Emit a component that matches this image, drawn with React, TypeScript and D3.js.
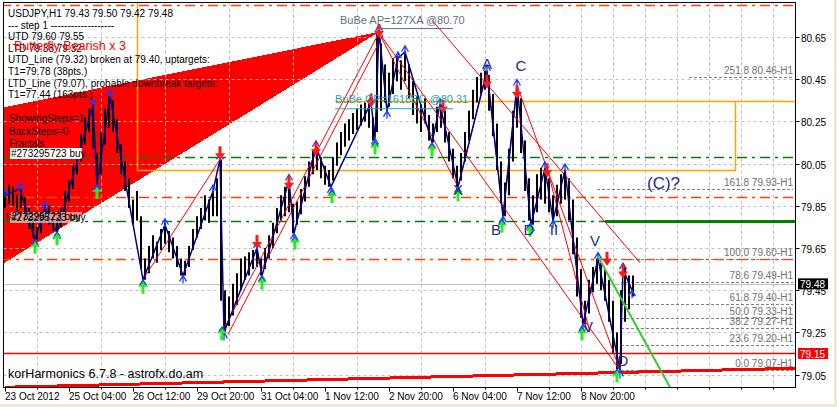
import React, { useEffect, useRef } from 'react';
import * as d3 from 'd3';

const W = 837, H = 407;
const FONT = '"Liberation Sans", Arial, sans-serif';

// 2-hour aggregated bars, bar i at hour 2*i
const highs = [79.93,79.95,79.94,79.90,79.93,79.89,79.84,79.78,79.75,79.81,79.86,79.85,79.80,79.78,79.84,79.92,79.97,80.04,80.12,80.19,
80.27,80.31,80.33,80.10,80.20,80.31,80.37,80.35,80.26,80.14,80.06,79.98,79.88,79.92,79.80,79.60,79.66,79.71,79.68,79.74,
79.77,79.73,79.70,79.66,79.60,79.59,79.66,79.74,79.80,79.84,79.90,79.88,79.92,79.98,80.07,79.45,79.42,79.48,79.53,79.60,
79.61,79.63,79.64,79.66,79.60,79.65,79.71,79.77,79.84,79.90,79.94,79.97,79.86,79.87,79.93,79.99,80.06,80.11,80.13,80.08,
80.04,80.02,80.08,80.15,80.20,80.24,80.26,80.29,80.31,80.33,80.34,80.34,80.27,80.68,80.62,80.52,80.48,80.55,80.56,80.54,
80.58,80.52,80.44,80.37,80.33,80.36,80.28,80.24,80.32,80.33,80.30,80.20,80.12,80.04,80.10,80.20,80.30,80.40,80.46,80.48,
80.49,80.47,80.38,80.24,80.06,79.96,80.12,80.30,80.42,80.36,80.16,79.98,79.90,80.00,80.03,80.02,79.98,79.90,79.95,80.00,
80.02,79.98,79.88,79.70,79.55,79.40,79.50,79.56,79.60,79.58,79.55,79.50,79.40,79.25,79.45,79.56,79.52,79.52];
const lows = [79.84,79.86,79.85,79.80,79.84,79.79,79.74,79.70,79.69,79.72,79.77,79.76,79.73,79.72,79.75,79.82,79.87,79.93,80.00,80.06,
80.14,80.20,80.12,79.95,80.00,80.14,80.22,80.20,80.10,80.00,79.92,79.84,79.76,79.78,79.55,79.50,79.53,79.60,79.58,79.64,
79.67,79.63,79.60,79.56,79.52,79.52,79.56,79.64,79.70,79.74,79.78,79.77,79.80,79.80,79.40,79.25,79.28,79.33,79.38,79.45,
79.50,79.52,79.55,79.56,79.52,79.55,79.60,79.65,79.72,79.78,79.80,79.82,79.72,79.76,79.81,79.87,79.94,80.00,80.02,79.98,
79.95,79.94,79.97,80.04,80.09,80.13,80.16,80.19,80.21,80.23,80.25,80.22,80.16,80.20,80.30,80.34,80.32,80.38,80.44,80.40,
80.44,80.36,80.28,80.24,80.20,80.24,80.16,80.15,80.20,80.22,80.15,80.06,79.98,79.94,79.97,80.06,80.16,80.26,80.34,80.38,
80.40,80.30,80.18,80.02,79.86,79.80,79.90,80.06,80.22,80.10,79.92,79.78,79.76,79.82,79.88,79.86,79.82,79.78,79.80,79.86,
79.88,79.78,79.62,79.42,79.32,79.29,79.34,79.44,79.48,79.45,79.40,79.30,79.15,79.07,79.10,79.30,79.36,79.42];

const timeLabels = ['23 Oct 2012','25 Oct 04:00','26 Oct 12:00','29 Oct 20:00','31 Oct 04:00','1 Nov 12:00','2 Nov 20:00','6 Nov 04:00','7 Nov 12:00','8 Nov 20:00'];
const timeLabelHours = [0,32,64,96,128,160,192,224,256,288];
const gridHours = [16,48,80,112,144,176,208,240,272,288,304,320,336,352,368,384];
const priceTicks = [80.65,80.45,80.25,80.05,79.85,79.65,79.45,79.25,79.05];

// zigzag [hour, price]
const zigzag = [[0,79.90],[7.5,79.93],[15,79.69],[20,79.84],[26,79.72],[44,80.33],[46,79.95],[52.5,80.37],[69,79.50],[80,79.76],[89,79.52],[104,79.92],[107.5,80.07],[109.5,79.25],[126,79.65],[128.5,79.52],[142,79.97],[144.5,79.72],[155.5,80.13],[163,79.94],[183,80.34],[185,80.17],[187,80.68],[191,80.30],[196.5,80.55],[200,80.58],[213.5,80.15],[217.5,80.33],[226.5,79.94],[241,80.49],[249,79.80],[256,80.42],[263,79.76],[270,80.03],[274,79.78],[280,80.02],[289,79.29],[296.5,79.60],[307.5,79.07],[309,79.55],[313.5,79.45]];

const redArrows = [[107.5,80.08],[126,79.66],[142,79.94],[155.5,80.10],[183,80.33],[187,80.66],[219,80.30],[241,80.42],[256,80.37],[271,80.00],[301,79.58],[309,79.52]];
const greenArrows = [[15,79.68],[26,79.72],[46,79.94],[69,79.49],[108.5,79.27],[128.5,79.51],[145,79.70],[163.5,79.92],[185,80.15],[213.5,80.14],[226.5,79.93],[248.5,79.78],[262.5,79.76],[288.5,79.27],[306,79.07]];

const redSegments = [
  [[187,80.67],[307.5,79.07]],
  [[213.5,80.73],[317.5,79.58]],
  [[187,80.67],[226.5,79.94]],
  [[226.5,79.94],[241,80.49]],
  [[241,80.49],[249,79.80]],
  [[249,79.80],[256,80.42]],
  [[256,80.42],[307.5,79.07]],
  [[69,79.50],[107.5,80.07]],
  [[108.5,79.25],[187,80.67]],
  [[111.5,79.24],[189,80.66]],
  [[271.5,80.01],[292.5,79.25]],
];
const greenSegment = [[296.5,79.61],[332.5,78.99]];
const butterflyArea = [[-2,80.314],[187,80.674],[-2,79.57]];
const bottomTrend = [[0,78.99],[395,79.08]];

const fibLabels = ['251.8 80.46-H1','161.8 79.93-H1','100.0 79.60-H1','78.6 79.49-H1','61.8 79.40-H1','50.0 79.33-H1','38.2 79.27-H1','23.6 79.20-H1','0.0 79.07-H1'];
const fibPrices = [80.46,79.93,79.60,79.49,79.385,79.32,79.27,79.19,79.07];
const fibStarts = [342,296,308,308,308,308,308,308,308];

const commentLines = ['USDJPY,H1  79.43 79.50 79.42 79.48','---   step 1   -------------------','UTD 79.60  79.55','LTD 79.38  79.32','UTD_Line (79.32) broken at 79.40, uptargets:','T1=79.78 (38pts.)','LTD_Line (79.07), probable downbreak targets:','T1=77.44 (163pts.)'];
const settingLines = ['ShowingSteps=1','BackSteps=0','Fractals'];
const waveLetters = [['A',241,80.50],['C',258,80.49],['X',226.5,79.90],['B',245.5,79.71],['D',262,79.71],['II',274.5,79.71],['V',295,79.66],['V',291.5,79.25],['D',309,79.09]];

export default function App() {
  const ref = useRef<SVGSVGElement>(null);
  useEffect(() => {
    document.body.style.margin = '0';
    const svg = d3.select(ref.current);
    svg.selectAll('*').remove();
    const x = d3.scaleLinear().domain([0, 395]).range([5, 795]);
    const y = d3.scaleLinear().domain([79.05, 80.65]).range([374.6, 37]);
    const L = 3.5, T = 2.5, R = 795.5, B = 387.5;

    svg.append('rect').attr('width', W).attr('height', H).attr('fill', '#fff');
    svg.append('rect').attr('x', 834).attr('width', 3).attr('height', H).attr('fill', '#ECE9D8');
    svg.append('rect').attr('y', 404).attr('width', W).attr('height', 3).attr('fill', '#ECE9D8');

    svg.append('clipPath').attr('id', 'pc').append('rect').attr('x', L).attr('y', T).attr('width', R - L).attr('height', B - T);
    const g = svg.append('g').attr('clip-path', 'url(#pc)');

    // butterfly area
    g.append('path').attr('d', d3.line()(butterflyArea.map(d => [x(d[0]), y(d[1])]) as any) + 'Z')
      .attr('fill', '#FF0000').attr('shape-rendering', 'crispEdges');

    // grid
    priceTicks.forEach(p => g.append('line').attr('x1', L).attr('x2', R).attr('y1', Math.round(y(p)) + 0.5).attr('y2', Math.round(y(p)) + 0.5)
      .attr('stroke', '#C0C0C0').attr('stroke-dasharray', '3,3'));
    gridHours.forEach(h => g.append('line').attr('x1', Math.round(x(h)) + 0.5).attr('x2', Math.round(x(h)) + 0.5).attr('y1', T).attr('y2', B)
      .attr('stroke', '#C0C0C0').attr('stroke-dasharray', '3,3'));

    const hline = (p: number, h0: number, h1: number, color: string, w: number, dash?: string) => {
      const yy = Math.round(y(p)) + (w % 2 ? 0.5 : 0);
      const l = g.append('line').attr('x1', x(h0)).attr('x2', x(h1)).attr('y1', yy).attr('y2', yy)
        .attr('stroke', color).attr('stroke-width', w);
      if (dash) l.attr('stroke-dasharray', dash);
    };
    const dd = '10,5,3,5';
    hline(80.80, -2, 394, '#FF4500', 1.5, dd);
    hline(80.08, -2, 394, '#008000', 1.5, dd);
    hline(79.89, -2, 394, '#FF4500', 1.5, dd);
    hline(79.78, -2, 300, '#008000', 1.5, dd);
    hline(79.78, 300, 396, '#008000', 3);
    hline(79.60, -2, 394, '#FF4500', 1.5, dd);
    hline(79.48, -2, 396, '#C0C0C0', 1);
    hline(79.15, -2, 396, '#FF0000', 1.5);

    // fib lines
    fibPrices.forEach((p, i) => hline(p, fibStarts[i], 394, '#808080', 1, '3,2'));

    // orange box
    const orange = '#FFA500';
    const ob = (pts: number[][]) => g.append('path').attr('d', d3.line()(pts.map(d => [Math.round(x(d[0])) + 0.5, Math.round(y(d[1])) + 0.5]) as any))
      .attr('fill', 'none').attr('stroke', orange).attr('stroke-width', 1.5);
    ob([[66, 80.82], [66, 80.02], [365, 80.02], [365, 80.347]]);
    ob([[165, 80.347], [396, 80.347]]);

    // bottom trend
    g.append('line').attr('x1', x(bottomTrend[0][0])).attr('y1', y(bottomTrend[0][1])).attr('x2', x(bottomTrend[1][0])).attr('y2', y(bottomTrend[1][1]))
      .attr('stroke', '#FF0000').attr('stroke-width', 3).attr('shape-rendering', 'crispEdges');

    // bars
    highs.forEach((hi, i) => {
      const xx = Math.round(x(2 * i));
      g.append('line').attr('x1', xx).attr('x2', xx).attr('y1', y(hi)).attr('y2', y(lows[i]))
        .attr('stroke', '#000').attr('stroke-width', 2);
    });

    // red lines
    redSegments.forEach(s => g.append('line').attr('x1', x(s[0][0])).attr('y1', y(s[0][1])).attr('x2', x(s[1][0])).attr('y2', y(s[1][1]))
      .attr('stroke', '#FF0000').attr('stroke-width', 1));

    // zigzag
    g.append('path').attr('d', d3.line()(zigzag.map(d => [x(d[0]), y(d[1])]) as any))
      .attr('fill', 'none').attr('stroke', '#00008B').attr('stroke-width', 1.5);
    // fractal marks
    zigzag.forEach((d, i) => {
      const cx = x(d[0]), cy = y(d[1]);
      const prev = zigzag[i - 1] ? zigzag[i - 1][1] : d[1] - 1;
      const up = d[1] > prev;
      const yy = up ? cy - 3 : cy + 3;
      g.append('path').attr('d', `M${cx - 3.5},${yy + 3} L${cx},${yy - 3} L${cx + 3.5},${yy + 3} M${cx},${yy - 3} L${cx},${yy + 5}`)
        .attr('fill', 'none').attr('stroke', '#1E3CFF').attr('stroke-width', 1.3);
    });

    // green line
    g.append('line').attr('x1', x(greenSegment[0][0])).attr('y1', y(greenSegment[0][1])).attr('x2', x(greenSegment[1][0])).attr('y2', y(greenSegment[1][1]))
      .attr('stroke', '#33CC33').attr('stroke-width', 2);

    // arrows
    redArrows.forEach(d => {
      const cx = x(d[0]), ty = y(d[1]) + 3;
      g.append('path').attr('d', `M${cx - 1.5},${ty - 14} h3 v7 h3.5 L${cx},${ty} L${cx - 5},${ty - 7} h3.5 Z`).attr('fill', '#FF1A1A');
    });
    greenArrows.forEach(d => {
      const cx = x(d[0]), ty = y(d[1]) - 2;
      g.append('path').attr('d', `M${cx - 1.5},${ty + 14} h3 v-7 h3.5 L${cx},${ty} L${cx - 5},${ty + 7} h3.5 Z`).attr('fill', '#22EE22');
      g.append('path').attr('d', `M${cx - 3},${ty + 5} L${cx},${ty + 1} L${cx + 3},${ty + 5}`).attr('fill', 'none').attr('stroke', '#1E3CFF').attr('stroke-width', 1.2);
    });

    // wave letters
    waveLetters.forEach(d => g.append('text').attr('x', x(d[1] as number)).attr('y', y(d[2] as number)).attr('text-anchor', 'middle')
      .attr('font-family', FONT).attr('font-size', 15).attr('fill', '#1F2A8A').text(d[0] as string));
    g.append('text').attr('x', x(321)).attr('y', y(79.93)).attr('font-family', FONT).attr('font-size', 17).attr('fill', '#1F2A8A').text('(C)?');

    // BuBe labels
    g.append('text').attr('x', x(167.5)).attr('y', y(80.71)).attr('font-family', FONT).attr('font-size', 11).attr('fill', '#607080').text('BuBe AP=127XA   @80.70');
    g.append('line').attr('x1', x(186)).attr('x2', x(224)).attr('y1', y(80.69)).attr('y2', y(80.69)).attr('stroke', '#607080');
    g.append('text').attr('x', x(165)).attr('y', y(80.335)).attr('font-family', FONT).attr('font-size', 11).attr('fill', '#20A8A8').text('BuBe CP=1618BC @80.31');
    g.append('line').attr('x1', x(165)).attr('x2', x(224)).attr('y1', y(80.31)).attr('y2', y(80.31)).attr('stroke', '#20A8A8');

    // fib labels
    fibLabels.forEach((t, i) => g.append('text').attr('x', 793).attr('y', y(fibPrices[i]) - 3).attr('text-anchor', 'end')
      .attr('font-family', FONT).attr('font-size', 10).attr('fill', '#707070').text(t));

    // comments
    commentLines.forEach((t, i) => g.append('text').attr('x', 8).attr('y', 17 + i * 11.6).attr('font-family', FONT).attr('font-size', 10).attr('fill', '#000').text(t));
    g.append('text').attr('x', 14).attr('y', 50).attr('font-family', FONT).attr('font-size', 12.5).attr('fill', '#FF0000').text('Butterfly Bearish x 3');
    settingLines.forEach((t, i) => g.append('text').attr('x', 9).attr('y', 122 + i * 12.5).attr('font-family', FONT).attr('font-size', 10).attr('fill', '#000').text(t));
    g.append('rect').attr('x', 10).attr('y', 148).attr('width', 72).attr('height', 11).attr('fill', '#fff');
    g.append('text').attr('x', 11).attr('y', 157).attr('font-family', FONT).attr('font-size', 10).attr('fill', '#000').text('#273295723 buy');
    g.append('rect').attr('x', 10).attr('y', 212).attr('width', 72).attr('height', 11).attr('fill', '#fff').attr('opacity', 0.6);
    g.append('text').attr('x', 11).attr('y', 221).attr('font-family', FONT).attr('font-size', 10).attr('fill', '#000').text('#273295723 buy');
    g.append('text').attr('x', 6).attr('y', 220).attr('font-family', FONT).attr('font-size', 10).attr('fill', '#000').text('#273295723 buy');
    g.append('text').attr('x', 8).attr('y', 378).attr('font-family', FONT).attr('font-size', 12.5).attr('fill', '#000').text('korHarmonics 6.7.8 - astrofx.do.am');

    // frame
    svg.append('rect').attr('x', L).attr('y', T).attr('width', R - L).attr('height', B - T).attr('fill', 'none').attr('stroke', '#000');

    // y axis
    priceTicks.forEach(p => {
      const yy = Math.round(y(p)) + 0.5;
      svg.append('line').attr('x1', R).attr('x2', R + 4).attr('y1', yy).attr('y2', yy).attr('stroke', '#000');
      svg.append('text').attr('x', 801).attr('y', yy + 4).attr('font-family', FONT).attr('font-size', 10).attr('fill', '#000').text(p.toFixed(2));
    });
    // price tags
    const tag = (p: number, bg: string) => {
      const yy = y(p);
      svg.append('rect').attr('x', 798).attr('y', yy - 5.5).attr('width', 30).attr('height', 11).attr('fill', bg);
      svg.append('text').attr('x', 800).attr('y', yy + 4).attr('font-family', FONT).attr('font-size', 10).attr('fill', '#fff').text(p.toFixed(2));
    };
    tag(79.48, '#000');
    tag(79.15, '#FF0000');

    // x axis
    for (let h = 0; h <= 384; h += 16) {
      const xx = Math.round(x(h)) + 0.5;
      const major = timeLabelHours.includes(h);
      svg.append('line').attr('x1', xx).attr('x2', xx).attr('y1', B).attr('y2', B + (major ? 4 : 2)).attr('stroke', '#000');
    }
    timeLabels.forEach((t, i) => svg.append('text').attr('x', x(timeLabelHours[i])).attr('y', 400).attr('font-family', FONT).attr('font-size', 10).attr('fill', '#000').text(t));
  }, []);
  return <svg ref={ref} width={W} height={H} style={{ display: 'block', position: 'absolute', left: 0, top: 0 }} />;
}
